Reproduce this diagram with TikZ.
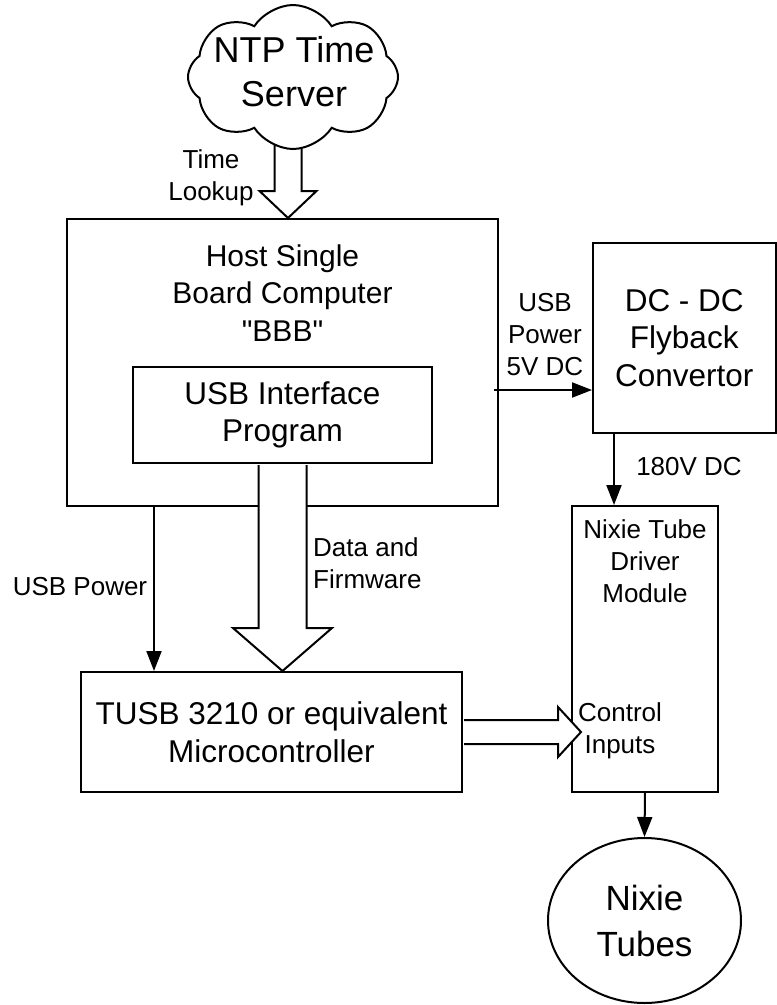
\documentclass[tikz,border=0pt]{standalone}
\usepackage{fontspec}
\setmainfont{Liberation Sans}[Ligatures=TeXOff]
\usetikzlibrary{arrows.meta, calc, positioning, shapes.symbols, shapes.geometric, backgrounds}

\newcommand{\fatarrow}[5]{%
  \coordinate (fhead) at ($(#2)!#5!(#1)$);
  \draw[blockarrow] ($(#1)!#3!90:(#2)$) -- ($(fhead)!#3!-90:(#1)$) -- ($(fhead)!#4!-90:(#1)$) -- (#2)
    -- ($(fhead)!#4!90:(#1)$) -- ($(fhead)!#3!90:(#1)$) -- ($(#1)!#3!-90:(#2)$);
}

\begin{document}
\begin{tikzpicture}[x=1pt, y=-1pt, line width=2pt,
  box/.style={draw, rectangle, inner sep=0pt, align=center},
  big/.style={font=\fontsize{31.5}{37.5}\selectfont},
  small/.style={font=\fontsize{26}{32}\selectfont, align=center, inner sep=0pt},
  arr/.style={-{Triangle[length=20pt,width=15pt]}},
  blockarrow/.style={draw=black, line width=2pt, fill=white, line join=miter}]
\useasboundingbox (0,0) rectangle (777,1005);

\node[draw, cloud, cloud puffs=8, cloud puff arc=115, cloud ignores aspect, minimum width=210pt, minimum height=144pt, inner sep=0pt, fill=white] at (293,77) (ntp) {};
\node[font=\fontsize{36}{44}\selectfont, align=center] at (294,72) (ntptxt) {NTP Time\\Server};
\node[box, minimum width=431pt, minimum height=287pt] at (282.5,362.5) (host) {};
\node[font=\fontsize{30}{37.5}\selectfont, align=center] at (282.5,293) (hosttxt) {Host Single\\Board Computer\\"BBB"};
\node[box, big, minimum width=299pt, minimum height=96pt] at (282.5,415) (usbif) {USB Interface\\Program};
\node[box, big, minimum width=381pt, minimum height=120pt] at (271.5,732) (tusb) {TUSB 3210 or equivalent\\Microcontroller};
\node[box, big, minimum width=182.5pt, minimum height=190pt] at (684.25,338) (dcdc) {DC - DC\\Flyback\\Convertor};
\node[box, minimum width=146pt, minimum height=286pt] at (645,649) (driver) {};
\node[small] at (645,561) (drivertxt) {Nixie Tube\\Driver\\Module};
\node[draw, ellipse, inner sep=0pt, minimum width=193pt, minimum height=165pt, font=\fontsize{35}{46}\selectfont, align=center] at (644.5,920.5) (tubes) {Nixie\\Tubes};

% thin arrows
\coordinate (pwrtap) at ($(host.south west)+(88,0)$);
\draw[arr] (pwrtap) -- (pwrtap |- tusb.north);
\coordinate (pwrout) at ($(host.east)+(-5,27.5)$);
\draw[arr] (pwrout) -- (pwrout -| dcdc.west);
\coordinate (hvtap) at ($(dcdc.south west)+(22,0)$);
\draw[arr] (hvtap) -- (hvtap |- driver.north);
\draw[arr] (driver.south) -- (tubes.north);

% wide arrows
\begin{pgfonlayer}{background}
\coordinate (lookstart) at ($(ntp.center)+(-5,44)$);
\coordinate (lookend) at ($(ntp.center |- host.north)+(-5,0)$);
\fatarrow{lookstart}{lookend}{13.5pt}{28.5pt}{27pt}
\end{pgfonlayer}
\coordinate (datastart) at ($(usbif.south)+(0,1)$);
\coordinate (dataend) at (usbif.south |- tusb.north);
\fatarrow{datastart}{dataend}{24pt}{49.5pt}{43pt}
\coordinate (ctrlstart) at ($(tusb.east)+(1,0)$);
\coordinate (ctrlend) at ($(driver.west |- tusb.east)+(10,0)$);
\fatarrow{ctrlstart}{ctrlend}{12pt}{25pt}{23pt}

% labels
\node[small] at (211,178) (lookup) {Time\\Lookup};
\node[small] at (80,587) (pwrlbl) {USB Power};
\node[small, align=left, anchor=west] at (313,563) (datalbl) {Data and\\Firmware};
\node[small] at (545,335) (pwr5vlbl) {USB\\Power\\5V DC};
\node[small] at (689,467) (hvlbl) {180V DC};
\node[small] at (620,731) (ctrl) {Control\\Inputs};
\end{tikzpicture}
\end{document}
